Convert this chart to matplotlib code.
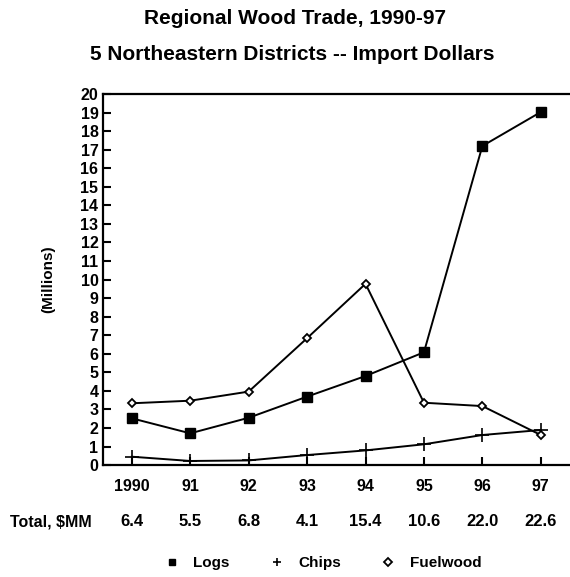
import matplotlib
matplotlib.use("Agg")
import matplotlib.pyplot as plt
import matplotlib.transforms as mtransforms
from matplotlib.lines import Line2D

plt.rcParams['font.family'] = ['Liberation Sans', 'DejaVu Sans']
plt.rcParams['font.weight'] = 'bold'

# ── data ─────────────────────────────────────────────────────────────────────
years = ['1990', '91', '92', '93', '94', '95', '96', '97']
logs = [2.52, 1.71, 2.55, 3.69, 4.80, 6.08, 17.2, 19.03]
chips = [0.45, 0.22, 0.25, 0.54, 0.79, 1.12, 1.62, 1.89]
fuelwood = [3.33, 3.47, 3.96, 6.84, 9.77, 3.36, 3.18, 1.62]
totals = ['6.4', '5.5', '6.8', '4.1', '15.4', '10.6', '22.0', '22.6']
y_ticks = list(range(0, 21))

x = list(range(len(years)))

fig = plt.figure(figsize=(5.70, 5.77), dpi=100)
ax = fig.add_axes([0.180, 0.194, 0.820, 0.643])

ax.plot(x, logs, color='black', lw=1.4, marker='s', ms=6.5,
        mfc='black', mec='black')
ax.plot(x, chips, color='black', lw=1.4, marker='+', ms=10, mew=1.2)
ax.plot(x, fuelwood, color='black', lw=1.4, marker='D', ms=4.2,
        mfc='white', mec='black', mew=1.3)

ax.set_xlim(-0.5, 7.5)
ax.set_ylim(0, 20)
ax.set_xticks(x)
ax.set_xticklabels(years)
ax.set_yticks(y_ticks)
ax.tick_params(direction='in', length=6, width=1.5, labelsize=11.5)
ax.tick_params(axis='x', pad=10)
ax.tick_params(axis='y', pad=3)
for lab in ax.get_xticklabels() + ax.get_yticklabels():
    lab.set_fontweight('bold')

for side in ['left', 'bottom', 'top']:
    ax.spines[side].set_linewidth(1.6)
ax.spines['right'].set_visible(False)

ax.set_ylabel('(Millions)', fontsize=11, fontweight='bold', labelpad=18)

# totals row under the year labels
trans = mtransforms.blended_transform_factory(ax.transData, fig.transFigure)
fig.text(0.018, 1 - 522 / 577, 'Total, $MM', fontsize=11.5, fontweight='bold',
         ha='left', va='center')
for xi, t in zip(x, totals):
    ax.text(xi, 1 - 522 / 577, t, transform=trans, fontsize=12,
            fontweight='bold', ha='center', va='center')

# titles
fig.text(0.518, 1 - 19 / 577, 'Regional Wood Trade, 1990-97', fontsize=15,
         fontweight='bold', ha='center', va='center')
fig.text(0.512, 1 - 55 / 577, '5 Northeastern Districts -- Import Dollars',
         fontsize=15, fontweight='bold', ha='center', va='center')

# legend
handles = [
    Line2D([], [], ls='none', marker='s', ms=5, color='black'),
    Line2D([], [], ls='none', marker='+', ms=6, mew=1.2, color='black'),
    Line2D([], [], ls='none', marker='D', ms=4, mfc='white', mec='black',
           mew=1.3),
]
fig.legend(handles, ['Logs', 'Chips', 'Fuelwood'], ncol=3, frameon=False,
           loc='center', bbox_to_anchor=(0.566, 1 - 563 / 577),
           prop={'size': 11, 'weight': 'bold'}, handlelength=1.0,
           handletextpad=0.9, columnspacing=2.6)

fig.savefig('out.png', dpi=100)
